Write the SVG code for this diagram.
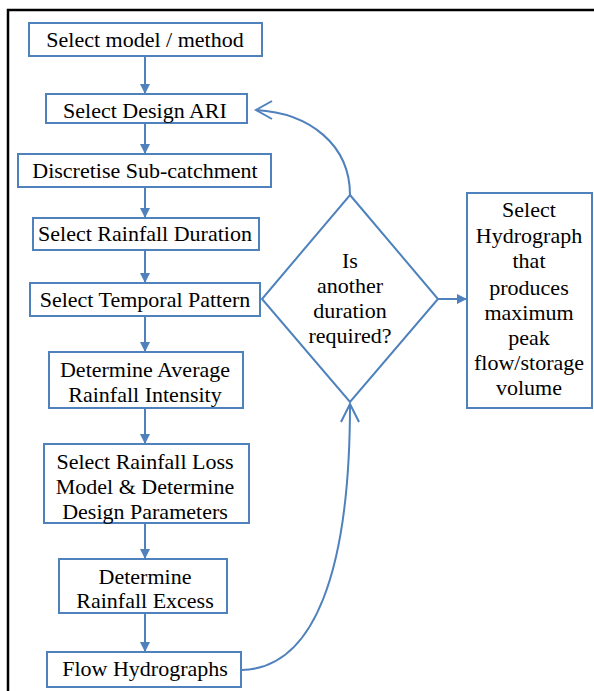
<svg xmlns="http://www.w3.org/2000/svg" width="594" height="691" viewBox="0 0 594 691">
<defs>
<style>
.box{fill:#fff;stroke:#4F81BD;stroke-width:2}
.t{font-family:"Liberation Serif","Times New Roman",serif;font-size:22px;fill:#000;text-anchor:middle}
.c{fill:none;stroke:#4F81BD;stroke-width:2}
</style>
<marker id="fa" viewBox="0 0 10 10" refX="10" refY="5" markerWidth="5" markerHeight="5" markerUnits="strokeWidth" orient="auto">
<path d="M0,0 L10,5 L0,10 z" fill="#4F81BD"/>
</marker>
</defs>
<rect width="594" height="691" fill="#fff"/>
<path d="M8,691 V10 H594" fill="none" stroke="#000" stroke-width="2.5"/>
<g id="connectors">
<line class="c" x1="145" y1="56" x2="145" y2="94" marker-end="url(#fa)"/>
<line class="c" x1="145" y1="123" x2="145" y2="154" marker-end="url(#fa)"/>
<line class="c" x1="145" y1="187" x2="145" y2="218" marker-end="url(#fa)"/>
<line class="c" x1="145" y1="250" x2="145" y2="283" marker-end="url(#fa)"/>
<line class="c" x1="145" y1="316" x2="145" y2="352" marker-end="url(#fa)"/>
<line class="c" x1="145" y1="408" x2="145" y2="444" marker-end="url(#fa)"/>
<line class="c" x1="145" y1="523" x2="145" y2="559" marker-end="url(#fa)"/>
<line class="c" x1="145" y1="613" x2="145" y2="652" marker-end="url(#fa)"/>
<line class="c" x1="438" y1="299" x2="467" y2="299" marker-end="url(#fa)"/>
<path class="c" d="M350,195 C350,145 310,113 256,110"/>
<path class="c" d="M272,101 L256,110 L272,119"/>
<path class="c" d="M242,670 C315,668 350,570 350,404"/>
<path class="c" d="M341,422 L350,404 L359,422"/>
</g>
<g id="n1"><rect class="box" x="29" y="23" width="233" height="33"/><text class="t" x="145" y="47">Select model / method</text></g>
<g id="n2"><rect class="box" x="46" y="94" width="201" height="29"/><text class="t" x="145" y="118">Select Design ARI</text></g>
<g id="n3"><rect class="box" x="18" y="154" width="253" height="33"/><text class="t" x="145" y="178">Discretise Sub-catchment</text></g>
<g id="n4"><rect class="box" x="33" y="218" width="226" height="32"/><text class="t" x="145" y="241">Select Rainfall Duration</text></g>
<g id="n5"><rect class="box" x="30" y="283" width="230" height="33"/><text class="t" x="145" y="307">Select Temporal Pattern</text></g>
<g id="n6"><rect class="box" x="49" y="352" width="194" height="56"/><text class="t" x="145" y="377">Determine Average</text><text class="t" x="145" y="402">Rainfall Intensity</text></g>
<g id="n7"><rect class="box" x="44" y="444" width="205" height="79"/><text class="t" x="145" y="469">Select Rainfall Loss</text><text class="t" x="145" y="494">Model &amp; Determine</text><text class="t" x="145" y="519">Design Parameters</text></g>
<g id="n8"><rect class="box" x="59" y="559" width="168" height="54"/><text class="t" x="145" y="584">Determine</text><text class="t" x="145" y="608">Rainfall Excess</text></g>
<g id="n9"><rect class="box" x="47" y="652" width="194" height="35"/><text class="t" x="145" y="676">Flow Hydrographs</text></g>
<g id="decision"><polygon class="box" points="350,195 438,299 350,402 262,299"/><text class="t" x="350" y="268">Is</text><text class="t" x="350" y="293">another</text><text class="t" x="350" y="318">duration</text><text class="t" x="350" y="343">required?</text></g>
<g id="result"><rect class="box" x="467" y="193" width="125" height="215"/>
<text class="t" x="529" y="217">Select</text><text class="t" x="529" y="243">Hydrograph</text><text class="t" x="529" y="268">that</text><text class="t" x="529" y="295">produces</text><text class="t" x="529" y="320">maximum</text><text class="t" x="529" y="345">peak</text><text class="t" x="529" y="370">flow/storage</text><text class="t" x="529" y="395">volume</text></g>
</svg>
